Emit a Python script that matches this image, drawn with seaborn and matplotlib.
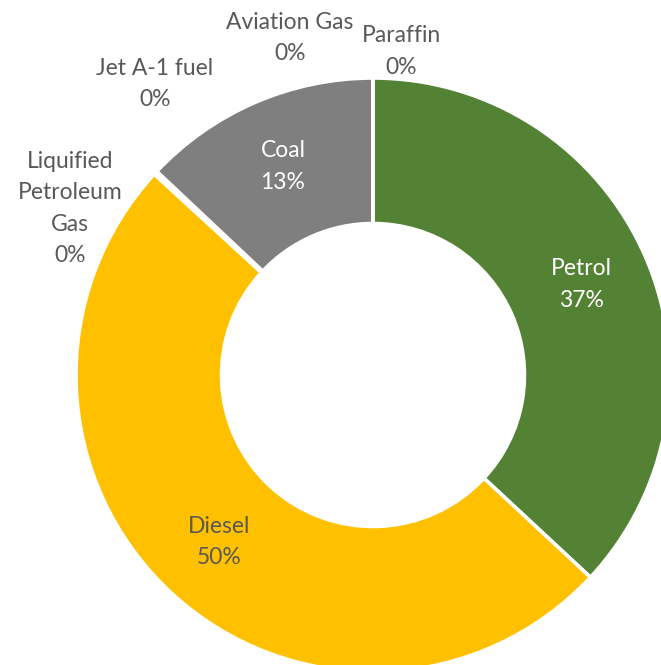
import numpy as np
import matplotlib
matplotlib.use("Agg")
import matplotlib.pyplot as plt
import seaborn as sns

# ---------------------------------------------------------------------------
# Data (clockwise from 12 o'clock)
# ---------------------------------------------------------------------------
fuels = ["Petrol", "Diesel", "Liquified\nPetroleum\nGas", "Jet A-1 fuel",
         "Coal", "Aviation Gas", "Paraffin"]
shares = [37.0, 50.0, 0.1, 0.1, 13.0, 0.0, 0.0]
pct_labels = ["37%", "50%", "0%", "0%", "13%", "0%", "0%"]
colors = ["#548235", "#FFC000", "#4472C4", "#ED7D31", "#7F7F7F", "#5B9BD5", "#A5A5A5"]

sns.set_theme(style="white")
plt.rcParams["font.family"] = ["Lato", "DejaVu Sans"]

fig = plt.figure(figsize=(6.61, 6.65), dpi=100)
ax = fig.add_axes([0, 0, 1, 1])

wedges, _ = ax.pie(shares, colors=colors, startangle=90, counterclock=False,
                   radius=1.0, wedgeprops=dict(width=0.49, edgecolor="white",
                                               linewidth=2.6))

# crop the ring like the original (center at ~373,375 px, radius ~297 px)
ax.set_xlim(-373 / 297, (661 - 373) / 297)
ax.set_ylim(-(665 - 375) / 297, 375 / 297)
ax.set_aspect("auto")
ax.axis("off")

inside_color = {"Petrol": "white", "Diesel": "#595959", "Coal": "white"}
# outside label spots for the 0% slices (x, y in data units)
outside_pos = {
    "Liquified\nPetroleum\nGas": (-1.02, 0.56),
    "Jet A-1 fuel": (-0.735, 0.98),
    "Aviation Gas": (-0.28, 1.135),
    "Paraffin": (0.095, 1.09),
}
fs = 16.5
ls = 1.62

for w, name, pct in zip(wedges, fuels, pct_labels):
    text = f"{name}\n{pct}"
    if name in inside_color:
        mid = np.deg2rad((w.theta1 + w.theta2) / 2)
        r = 0.765
        ax.text(r * np.cos(mid), r * np.sin(mid), text, ha="center", va="center",
                fontsize=fs, color=inside_color[name], linespacing=ls)
    else:
        x, y = outside_pos[name]
        ax.text(x, y, text, ha="center", va="center", fontsize=fs,
                color="#595959", linespacing=ls)

fig.savefig("out.png", dpi=100, facecolor="white")
